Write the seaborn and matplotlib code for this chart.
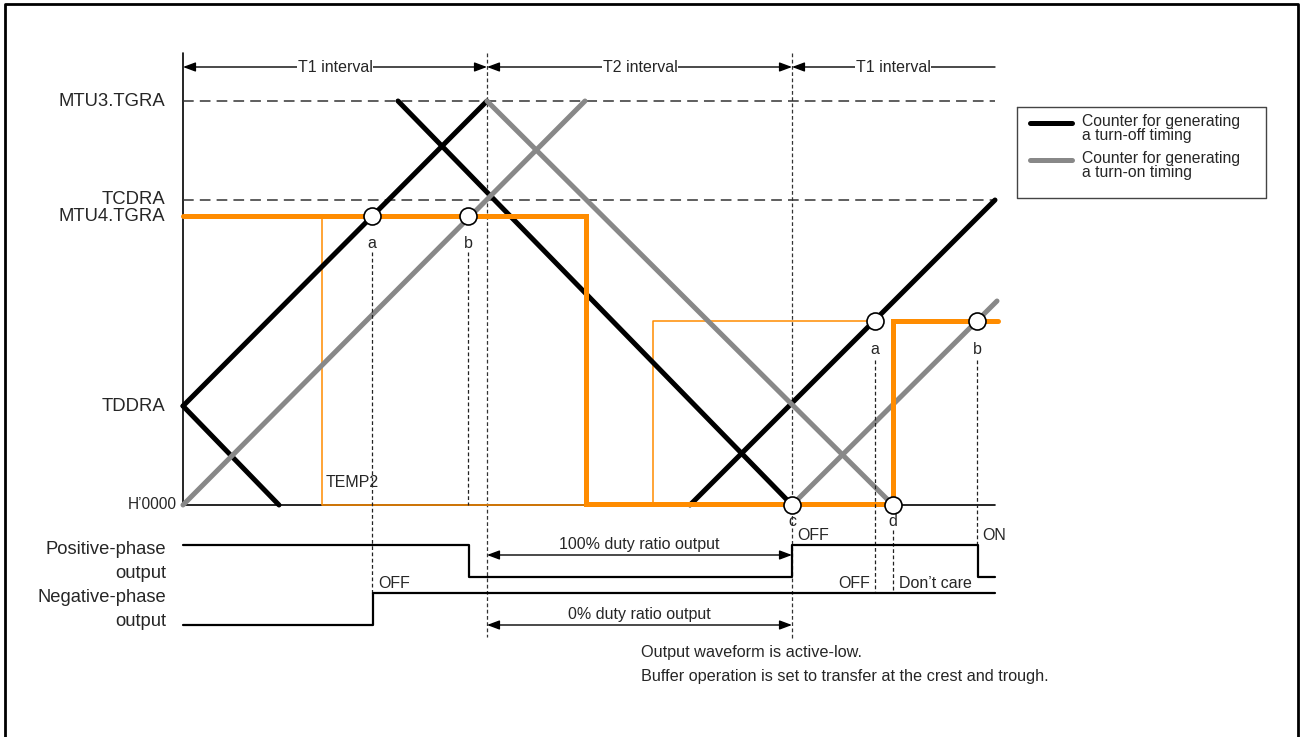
import numpy as np
import pandas as pd
import matplotlib
matplotlib.use('Agg')
import matplotlib.pyplot as plt
import seaborn as sns

# --- diagram data (canvas units: x = time position, y = vertical position) ---
x_start, x_t1_end, x_t2_end, x_end = 183, 487, 792, 995
y_top, y_zero = 53, 505
y_interval = 67

level_names = ['MTU3.TGRA', 'TCDRA', 'MTU4.TGRA', 'TDDRA']
level_y = [101, 199, 216, 406]
dashed_levels = [101, 200]

interval_names = ['T1 interval', 'T2 interval', 'T1 interval']
interval_x0 = [183, 487, 792]
interval_x1 = [487, 792, 995]
interval_text_x = [335, 640, 893]

# counter ramps (turn-off = black, turn-on = gray)
off_seg_x = [[183, 487], [183, 279], [398, 792], [690, 995]]
off_seg_y = [[406, 101], [406, 505], [101, 505], [505, 200]]
on_seg_x = [[183, 585], [487, 893], [792, 997]]
on_seg_y = [[505, 101], [101, 505], [505, 301]]

# compare register (thick) and TEMP2 buffer (thin)
cmp_x = [183, 586, 586, 893, 893, 998]
cmp_y = [216, 216, 504, 504, 321, 321]
temp2_x = [[322, 322, 586], [653, 653, 875]]
temp2_y = [[216, 505, 505], [504, 321, 321]]

point_labels = ['a', 'b', 'c', 'd', 'a', 'b']
point_x = [372, 468, 792, 893, 875, 977]
point_y = [216, 216, 505, 505, 321, 321]
label_dy = [27, 27, 17, 17, 28, 28]

# dashed guide lines from compare-match points
guide_x = [372, 468, 875, 893, 977]
guide_y0 = [252, 252, 360, 530, 360]
guide_y1 = [593, 505, 593, 593, 545]

# output waveforms
pos_x = [183, 469, 469, 792, 792, 978, 978, 995]
pos_y = [545, 545, 577, 577, 545, 545, 577, 577]
neg_x = [183, 373, 373, 995]
neg_y = [625, 625, 593, 593]

sns.set_style('white')
plt.rcParams['font.family'] = ['Liberation Sans', 'DejaVu Sans']

fig = plt.figure(figsize=(13, 7.37), dpi=100)
ax = fig.add_axes([0, 0, 1, 1])

# outer frame
ax.plot([5, 5, 1298, 1298], [737, 4, 4, 737], color='black', lw=2)

# axes of the counter plot
ax.plot([x_start, x_start, x_end], [y_top, y_zero, y_zero], color='black', lw=1.2)
for y in dashed_levels:
    ax.plot([x_start, x_end], [y, y], color='#333333', lw=1.1, dashes=(7, 4))
for x, y1 in zip([x_t1_end, x_t2_end], [637, 640]):
    ax.plot([x, x], [y_top, y1], color='#333333', lw=0.9, dashes=(3, 2))

# interval arrows
for name, x0, x1, tx in zip(interval_names, interval_x0, interval_x1, interval_text_x):
    style = '<|-|>' if x1 != x_end else '<|-'
    ax.annotate('', xy=(x1, y_interval), xytext=(x0, y_interval),
                arrowprops=dict(arrowstyle=style + ',head_length=0.75,head_width=0.28',
                                color='black', lw=1, shrinkA=0, shrinkB=0))
    ax.text(tx, y_interval, name, ha='center', va='center', fontsize=11.5,
            bbox=dict(fc='white', ec='none', pad=0.6))

# level labels
for name, y in zip(level_names, level_y):
    ax.text(165, y, name, ha='right', va='center', fontsize=13.3)
ax.text(177, y_zero - 1, "H\u20190000", ha='right', va='center', fontsize=11.2)

# TEMP2 thin lines
for xs, ys in zip(temp2_x, temp2_y):
    ax.plot(xs, ys, color='#FF8C00', lw=1.1)
ax.text(326, 482, 'TEMP2', ha='left', va='center', fontsize=11.5)

# counters
rows = []
for i, (xs, ys) in enumerate(zip(off_seg_x, off_seg_y)):
    for x, y in zip(xs, ys):
        rows.append({'x': x, 'y': y, 'counter': 'off', 'seg': i})
for i, (xs, ys) in enumerate(zip(on_seg_x, on_seg_y)):
    for x, y in zip(xs, ys):
        rows.append({'x': x, 'y': y, 'counter': 'on', 'seg': 10 + i})
df = pd.DataFrame(rows)
sns.lineplot(data=df, x='x', y='y', hue='counter', units='seg', estimator=None,
             sort=False, palette={'off': 'black', 'on': '#888888'},
             lw=3.6, legend=False, ax=ax, solid_capstyle='round')

# compare register thick line
ax.plot(cmp_x, cmp_y, color='#FF8C00', lw=3.6, solid_joinstyle='miter')

# guide lines
for x, y0, y1 in zip(guide_x, guide_y0, guide_y1):
    ax.plot([x, x], [y0, y1], color='#222222', lw=0.9, dashes=(3, 2))

# match points
pts = pd.DataFrame({'x': point_x, 'y': point_y})
sns.scatterplot(data=pts, x='x', y='y', s=150, color='white', edgecolor='black',
                linewidth=1.2, zorder=5, ax=ax)
for lab, x, y, dy in zip(point_labels, point_x, point_y, label_dy):
    ax.text(x, y + dy, lab, ha='center', va='center', fontsize=11.5)

# output waveforms
ax.plot(pos_x, pos_y, color='black', lw=1.6)
ax.plot(neg_x, neg_y, color='black', lw=1.6)
ax.text(166, 550, 'Positive-phase', ha='right', va='center', fontsize=13.2)
ax.text(166, 573, 'output', ha='right', va='center', fontsize=13.2)
ax.text(166, 598, 'Negative-phase', ha='right', va='center', fontsize=13.2)
ax.text(166, 621, 'output', ha='right', va='center', fontsize=13.2)

for y, txt, ty in [(555, '100% duty ratio output', 545), (625, '0% duty ratio output', 614)]:
    ax.annotate('', xy=(x_t2_end, y), xytext=(x_t1_end, y),
                arrowprops=dict(arrowstyle='<|-|>,head_length=0.75,head_width=0.28',
                                color='black', lw=1, shrinkA=0, shrinkB=0))
    ax.text((x_t1_end + x_t2_end) / 2, ty, txt, ha='center', va='center', fontsize=11.5)

ax.text(378, 584, 'OFF', ha='left', va='center', fontsize=11.5)
ax.text(797, 535, 'OFF', ha='left', va='center', fontsize=11.5)
ax.text(982, 535, 'ON', ha='left', va='center', fontsize=11.5)
ax.text(870, 583, 'OFF', ha='right', va='center', fontsize=11.5)
ax.text(899, 583, 'Don\u2019t care', ha='left', va='center', fontsize=11.5)

# notes
ax.text(641, 653, 'Output waveform is active-low.', ha='left', va='center', fontsize=11.7)
ax.text(641, 676, 'Buffer operation is set to transfer at the crest and trough.',
        ha='left', va='center', fontsize=11.7)

# legend box
ax.plot([1017, 1266, 1266, 1017, 1017], [107, 107, 198, 198, 107], color='#444444', lw=1)
ax.plot([1030, 1072], [123, 123], color='black', lw=3.6)
ax.plot([1030, 1072], [160, 160], color='#888888', lw=3.6)
ax.text(1082, 121, 'Counter for generating', ha='left', va='center', fontsize=11.3)
ax.text(1082, 135, 'a turn-off timing', ha='left', va='center', fontsize=11.3)
ax.text(1082, 158, 'Counter for generating', ha='left', va='center', fontsize=11.3)
ax.text(1082, 172, 'a turn-on timing', ha='left', va='center', fontsize=11.3)

ax.set_xlim(0, 1300)
ax.set_ylim(737, 0)
ax.axis('off')

fig.savefig('out.png', dpi=100, facecolor='white')
